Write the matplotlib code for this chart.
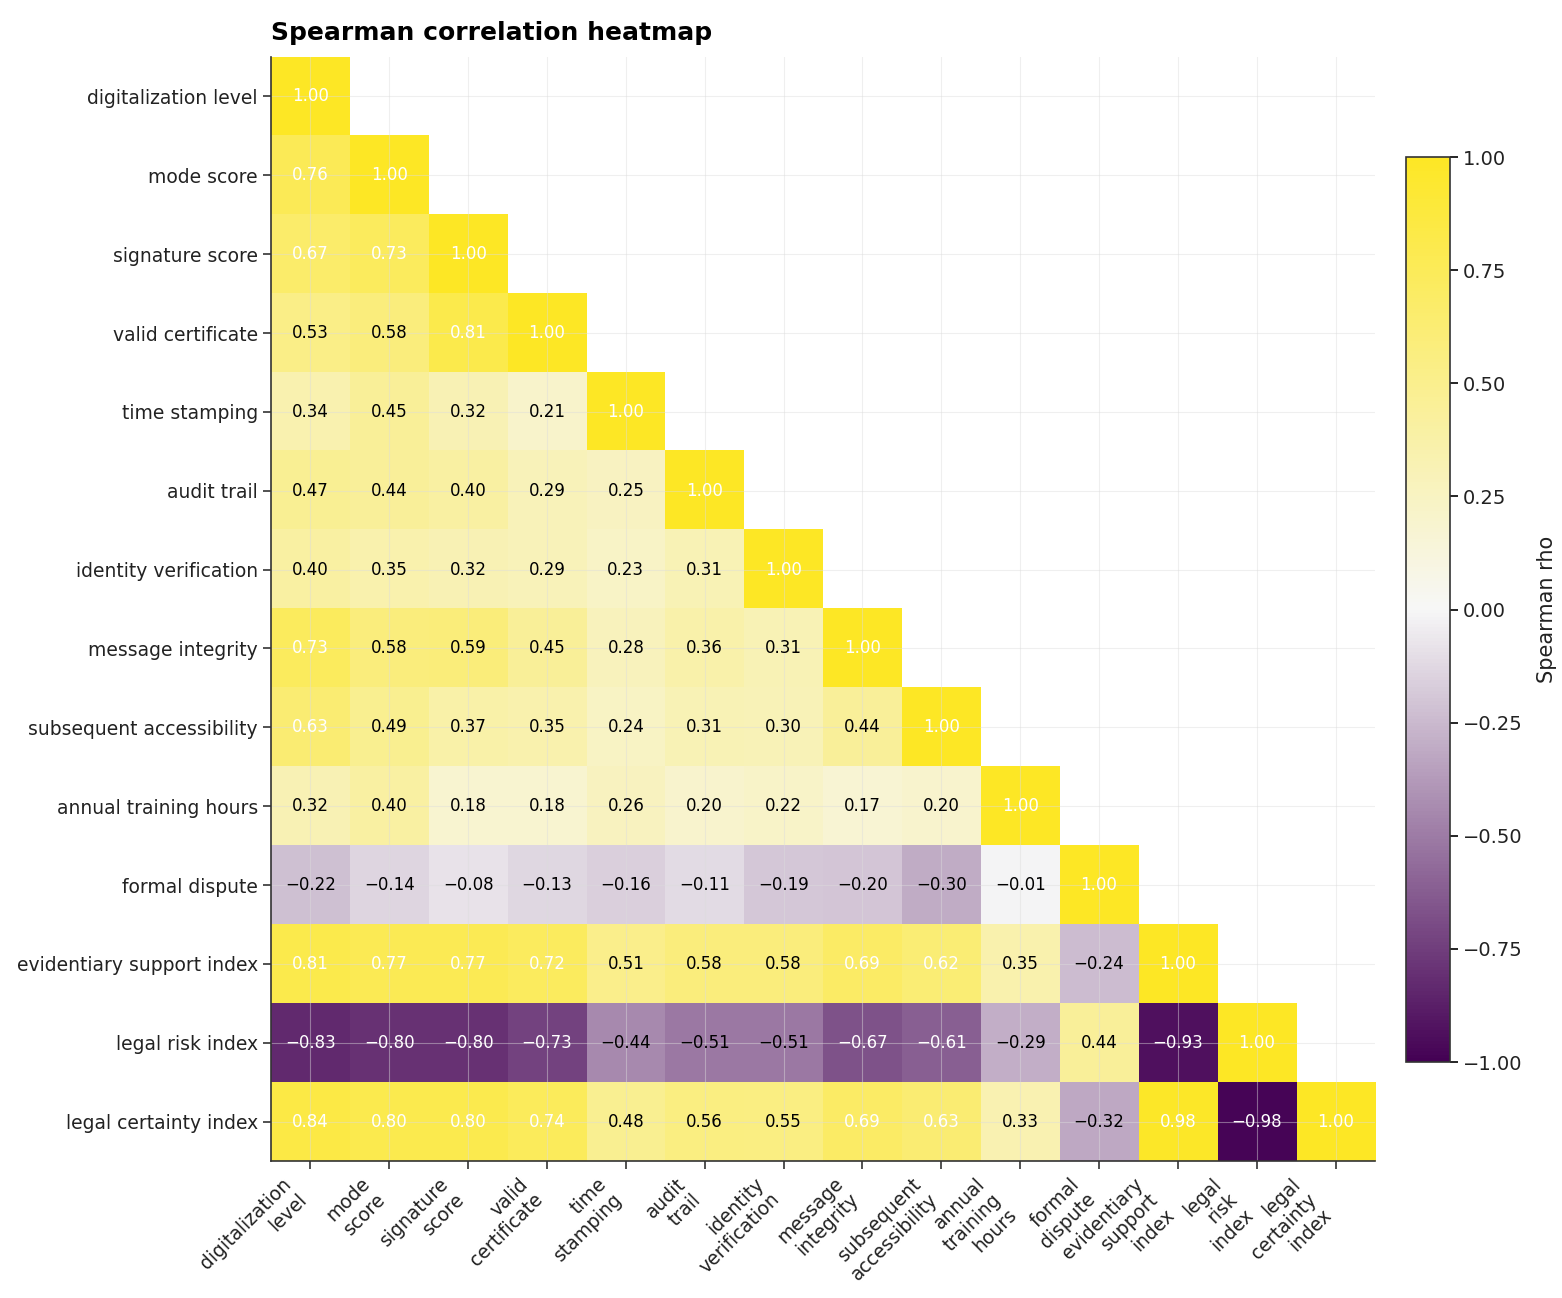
import numpy as np
import matplotlib
matplotlib.use("Agg")
import matplotlib.pyplot as plt
from matplotlib.colors import LinearSegmentedColormap

# variables (rows / columns)
labels = [
    "digitalization level", "mode score", "signature score", "valid certificate",
    "time stamping", "audit trail", "identity verification", "message integrity",
    "subsequent accessibility", "annual training hours", "formal dispute",
    "evidentiary support index", "legal risk index", "legal certainty index",
]

# lower triangle of the Spearman matrix, row by row (diagonal included)
rows = [
    [1.00],
    [0.76, 1.00],
    [0.67, 0.73, 1.00],
    [0.53, 0.58, 0.81, 1.00],
    [0.34, 0.45, 0.32, 0.21, 1.00],
    [0.47, 0.44, 0.40, 0.29, 0.25, 1.00],
    [0.40, 0.35, 0.32, 0.29, 0.23, 0.31, 1.00],
    [0.73, 0.58, 0.59, 0.45, 0.28, 0.36, 0.31, 1.00],
    [0.63, 0.49, 0.37, 0.35, 0.24, 0.31, 0.30, 0.44, 1.00],
    [0.32, 0.40, 0.18, 0.18, 0.26, 0.20, 0.22, 0.17, 0.20, 1.00],
    [-0.22, -0.14, -0.08, -0.13, -0.16, -0.11, -0.19, -0.20, -0.30, -0.01, 1.00],
    [0.81, 0.77, 0.77, 0.72, 0.51, 0.58, 0.58, 0.69, 0.62, 0.35, -0.24, 1.00],
    [-0.83, -0.80, -0.80, -0.73, -0.44, -0.51, -0.51, -0.67, -0.61, -0.29, 0.44, -0.93, 1.00],
    [0.84, 0.80, 0.80, 0.74, 0.48, 0.56, 0.55, 0.69, 0.63, 0.33, -0.32, 0.98, -0.98, 1.00],
]

n = len(labels)
corr = np.full((n, n), np.nan)
for i, r in enumerate(rows):
    corr[i, :len(r)] = r

cmap = LinearSegmentedColormap.from_list("pw_y", ["#440154", "#f7f7f7", "#fde725"])

fig = plt.figure(figsize=(15.62, 12.98), dpi=100)
ax = fig.add_axes([0.1735, 0.1055, 0.7068, 0.8506])
cax = fig.add_axes([0.9001, 0.1818, 0.0282, 0.6972])

im = ax.imshow(np.ma.masked_invalid(corr), cmap=cmap, vmin=-1, vmax=1, aspect="auto")

# value labels
for i in range(n):
    for j in range(n):
        v = corr[i, j]
        if np.isnan(v):
            continue
        col = "white" if abs(v) > 0.6 else "black"
        ax.text(j, i, f"{v:.2f}".replace("-", "\u2212"), ha="center", va="center",
                fontsize=12, color=col)

xlabels = [s.replace(" ", "\n") for s in labels]
ax.set_xticks(range(n))
ax.set_yticks(range(n))
ax.set_xticklabels(xlabels, rotation=45, ha="right", multialignment="right",
                   fontsize=13.5)
ax.set_yticklabels(labels, fontsize=13.5)
ax.tick_params(length=6, width=1.2, color="#333333", labelcolor="#222222")
ax.set_xlim(-0.5, n - 0.5)
ax.set_ylim(n - 0.5, -0.5)

ax.grid(True, color="#dcdcdc", linewidth=0.8, alpha=0.45)
for s in ["top", "right"]:
    ax.spines[s].set_visible(False)
for s in ["left", "bottom"]:
    ax.spines[s].set_color("#333333")
    ax.spines[s].set_linewidth(1.2)

ax.set_title("Spearman correlation heatmap", loc="left", fontsize=18,
             fontweight="bold", pad=12)

cb = fig.colorbar(im, cax=cax)
cb.set_ticks([-1, -0.75, -0.5, -0.25, 0, 0.25, 0.5, 0.75, 1])
cb.ax.set_yticklabels([f"{t:.2f}".replace("-", "\u2212") for t in cb.get_ticks()])
cb.ax.tick_params(labelsize=14, length=6, width=1.2, labelcolor="#222222")
cb.set_label("Spearman rho", fontsize=15, labelpad=10, color="#222222")
cb.outline.set_edgecolor("#333333")
cb.outline.set_linewidth(1.2)

fig.savefig("out.png", dpi=100)
